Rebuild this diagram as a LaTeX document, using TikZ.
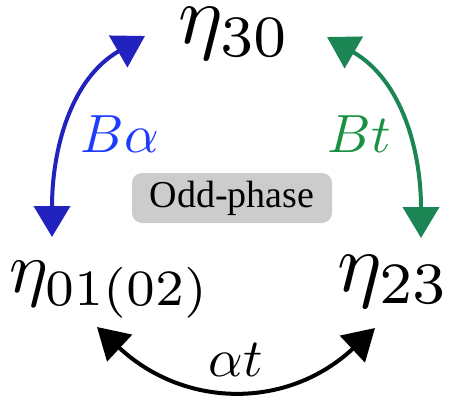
\documentclass[tikz,border=0pt]{standalone}
\usepackage{fontspec}
\newfontfamily\phasefont{Liberation Serif}
\definecolor{arcblue}{RGB}{34,34,190}
\definecolor{textblue}{RGB}{30,60,255}
\definecolor{arcgreen}{RGB}{27,133,83}
\definecolor{textgreen}{RGB}{26,144,64}
\definecolor{boxgray}{RGB}{204,204,204}
\usetikzlibrary{arrows.meta}

\begin{document}
\begin{tikzpicture}[x=1bp, y=1bp, >={Triangle[length=31bp, width=36bp]}, line width=4bp,
    eta/.style={inner sep=0pt, anchor=base, scale=8.4},
    coef/.style={inner sep=0pt, scale=5.4}]
  \useasboundingbox (0,0) rectangle (450,399);
  \node[eta] (eta30) at (235,355) {$\eta_{30}$};
  \node[eta, scale=7.3/8.4] (eta01) at (110,107) {$\eta_{01(02)}$};
  \node[eta] (eta23) at (394,108) {$\eta_{23}$};
  \node[fill=boxgray, rounded corners=10bp, minimum width=200bp, minimum height=50bp,
    font=\phasefont\fontsize{38bp}{44bp}\selectfont] (phase) at (232,201) {Odd-phase};
  \draw[<->, arcblue] ([shift={(-58,55)}]eta01.base) to[out=90, in=210] ([shift={(-90,8)}]eta30.base);
  \draw[<->, arcgreen] ([shift={(27,53)}]eta23.base) to[out=90, in=-30] ([shift={(92,7)}]eta30.base);
  \draw[<->] ([shift={(-13,-35)}]eta01.base) to[out=-43, in=-137, looseness=1.1] ([shift={(-19,-37)}]eta23.base);
  \node[coef, textblue] (ba) at (120,265) {$B\alpha$};
  \node[coef, textgreen] (bt) at (359,265) {$Bt$};
  \node[coef] (at) at (236,39) {$\alpha t$};
\end{tikzpicture}
\end{document}
